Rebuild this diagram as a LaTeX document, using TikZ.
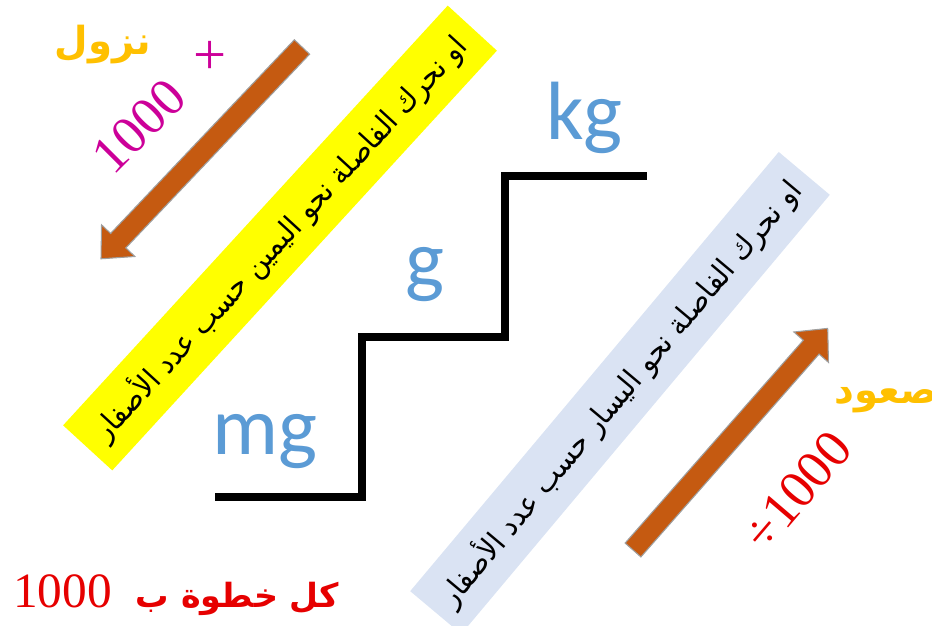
\documentclass[tikz,border=0pt]{standalone}
\usepackage{fontspec}
\usepackage{graphicx}
\setmainfont{Liberation Serif}
\newfontfamily\latfont{Carlito}
\newfontfamily\arabicfont[Script=Arabic]{DejaVu Sans}
\TeXXeTstate=1
\definecolor{unitblue}{RGB}{91,155,213}
\definecolor{arroworange}{RGB}{197,90,17}
\definecolor{goldtxt}{RGB}{255,192,0}
\definecolor{magtxt}{RGB}{204,0,153}
\definecolor{bandblue}{RGB}{218,227,243}
\definecolor{bandyellow}{RGB}{255,255,0}
\definecolor{redtxt}{RGB}{230,0,0}
\begin{document}
\begin{tikzpicture}[x=0.75pt,y=0.75pt,
  stair/.style={line width=6.5pt, line cap=butt, line join=miter, black},
  unitlbl/.style={text=unitblue, font=\latfont\fontsize{62}{70}\selectfont, inner sep=0pt, anchor=base west},
  bandbox/.style={inner sep=0pt, minimum height=50pt},
  blockarrow/.style={fill=arroworange, draw=gray!75, line width=0.8pt, line join=miter},
  arlbl/.style={font=\arabicfont\bfseries\fontsize{29}{33}\selectfont, text=goldtxt, inner sep=0pt},
  numlbl/.style={font=\fontsize{40}{44}\selectfont, inner sep=0pt}]
\useasboundingbox (0,0) rectangle (932,625);

% bands
\node[bandbox, fill=bandyellow, rotate=47.5, minimum width=427pt] (yband) at (280,387)
  {\resizebox*{402pt}{27pt}{\arabicfont\beginR او نحرك الفاصلة نحو اليمين حسب عدد الأصفار\endR}};
\node[bandbox, fill=bandblue, rotate=50, minimum width=430pt] (bband) at (620,232)
  {\resizebox*{408pt}{27pt}{\arabicfont\beginR او نحرك الفاصلة نحو اليسار حسب عدد الأصفار\endR}};

% staircase
\coordinate (s0) at (215,128);
\coordinate (s1) at (362,288);
\coordinate (s2) at (505,449);
\coordinate (s3) at (647,449);
\draw[stair] (s0) -| (s1) -| (s2) -- (s3);

% unit labels
\node[unitlbl] (mg) at (212,170) {mg};
\node[unitlbl] (g) at (405,337) {g};
\node[unitlbl] (kg) at (546,485) {kg};

% arrows
\coordinate (a1tail) at (302,578);
\coordinate (a2tail) at (633,75);
\begin{scope}[shift={(a1tail)}, rotate=226.5]
  \draw[blockarrow] (0,-10.5) -- (267,-10.5) -- (267,-23) -- (292,0) -- (267,23) -- (267,10.5) -- (0,10.5) -- cycle;
\end{scope}
\begin{scope}[shift={(a2tail)}, rotate=48.7]
  \draw[blockarrow] (0,-10.5) -- (270,-10.5) -- (270,-23) -- (295,0) -- (270,23) -- (270,10.5) -- (0,10.5) -- cycle;
\end{scope}

% labels
\node[arlbl] (nuzul) at (103,580) {\beginR نزول\endR};
\node[arlbl, anchor=east] (suud) at (938,225) {\beginR صعود\endR};
\node[text=magtxt, font=\fontsize{44}{48}\selectfont, inner sep=0pt] (plus) at (210,567) {+};
\node[numlbl, text=magtxt, rotate=45] (mul) at (139,499) {1000};
\node[numlbl, text=redtxt, rotate=49.5] (div) at (797,134) {÷1000};
\node[inner sep=0pt, anchor=base west, text=redtxt] (step) at (13,17)
  {{\fontsize{37}{42}\selectfont 1000}\hspace{18pt}{\arabicfont\bfseries\fontsize{25}{30}\selectfont\beginR كل خطوة ب\endR}};
\end{tikzpicture}
\end{document}
